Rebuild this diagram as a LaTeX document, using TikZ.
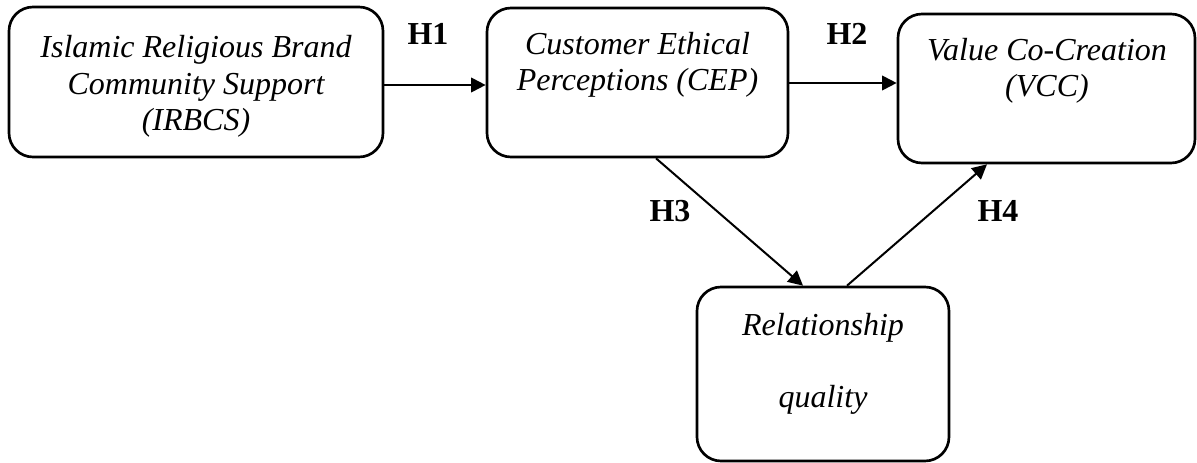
\documentclass[tikz,border=0pt]{standalone}
\usepackage{fontspec}
\setmainfont{Liberation Serif}
\usetikzlibrary{arrows.meta,calc}
\begin{document}
\begin{tikzpicture}[x=0.75pt,y=-0.75pt,
  box/.style={draw,line width=2pt,rounded corners=18pt,inner sep=0pt},
  boxtext/.style={font=\fontsize{24}{27.5}\selectfont\itshape,align=center,anchor=base,inner sep=0pt},
  hyp/.style={font=\fontsize{24}{27}\selectfont\bfseries,inner sep=0pt},
  arr/.style={line width=1.5pt,-{Triangle[length=11pt,width=11pt]}}]
\useasboundingbox (0,0) rectangle (1197,463);

% construct boxes
\node[box,minimum width=280.5pt,minimum height=112.5pt] (irbcs) at (196,82) {};
\node[box,minimum width=225.75pt,minimum height=111.75pt] (cep) at (637.5,82.5) {};
\node[box,minimum width=222.75pt,minimum height=111.75pt] (vcc) at (1046.5,88.5) {};
\node[box,minimum width=189pt,minimum height=130.5pt] (rq) at (823,374) {};

% box captions (placed by the baseline of their last line)
\node[boxtext] (irbcs-t) at (196,131) {Islamic Religious Brand\\Community Support\\(IRBCS)};
\node[boxtext] (cep-t) at (637.5,91) {Customer Ethical\\Perceptions (CEP)};
\node[boxtext] (vcc-t) at (1047,97) {Value Co-Creation\\(VCC)};
\node[boxtext] (rq-t) at (823,408) {Relationship\\[27pt]quality};

% hypothesised paths
\draw[arr] ($(irbcs.east)+(0,3)$) -- ($(cep.west)+(0,2.5)$);
\draw[arr] ($(cep.east)+(0,0.5)$) -- ($(vcc.west)+(0,-5.5)$);
\draw[arr] ($(cep.south)+(18.5,0)$) -- ($(rq.north)+(-20,0)$);
\draw[arr] ($(rq.north)+(24,0)$) -- ($(vcc.south)+(-59.5,0)$);

% hypothesis labels
\node[hyp] (h1) at (428,34) {H1};
\node[hyp] (h2) at (847,34) {H2};
\node[hyp] (h3) at (670,211) {H3};
\node[hyp] (h4) at (998,211) {H4};
\end{tikzpicture}
\end{document}
